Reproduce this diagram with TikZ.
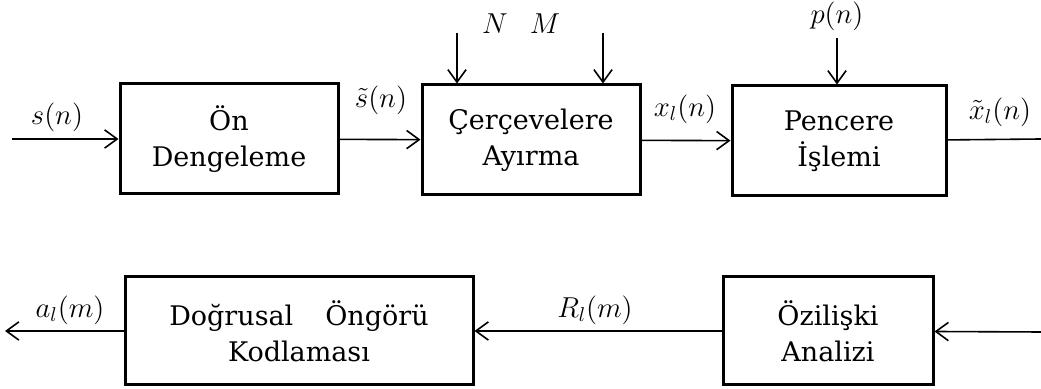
\documentclass[tikz,border=0pt]{standalone}
\usepackage{amsmath,amssymb}
\usepackage{fontspec}
\setmainfont{DejaVu Serif}
\usepackage{tikz}
\usetikzlibrary{positioning,arrows.meta,calc}
\tikzset{
  blok/.style={draw, line width=1.5pt, align=center, inner sep=0pt,
               font=\fontsize{13.5}{18}\selectfont},
  ok/.style={-{Straight Barb[length=2.2mm,width=3.2mm]}, line width=0.8pt},
  hat/.style={line width=0.8pt},
  etiket/.style={font=\fontsize{14.5}{16}\selectfont, inner sep=1pt},
}

\begin{document}
\begin{tikzpicture}[x=0.5pt, y=-0.5pt]
  \useasboundingbox (0,0) rectangle (1041,389);

  % ust sira
  \node[blok, minimum width=109pt, minimum height=55pt] (onden) at (229,139) {Ön\\Dengeleme};
  \node[blok, minimum width=109pt, minimum height=55pt] (cerc)  at (531,140) {Çerçevelere\\Ayırma};
  \node[blok, minimum width=107pt, minimum height=55pt] (pen)   at (839,141) {Pencere\\İşlemi};

  % alt sira
  \node[blok, minimum width=174pt, minimum height=54pt] (dok)   at (299,331) {Doğrusal\hspace{16pt}Öngörü\\Kodlaması};
  \node[blok, minimum width=105pt, minimum height=54pt] (ozil)  at (828,331) {Özilişki\\Analizi};

  % serbest uclar
  \coordinate (giris) at (12,139);
  \coordinate (cikis) at (1041,139);
  \coordinate (nN)    at (457,33);
  \coordinate (nM)    at (603,33);
  \coordinate (np)    at (837,38);
  \coordinate (giris2) at (1041,332);
  \coordinate (cikis2) at (5,331);

  \draw[ok] (giris) -- (onden);
  \draw[ok] (onden) -- (cerc);
  \draw[ok] (cerc) -- (pen);
  \draw[hat] (pen) -- (cikis);
  \draw[ok] (nN) -- (nN |- cerc.north);
  \draw[ok] (nM) -- (nM |- cerc.north);
  \draw[ok] (np) -- (np |- pen.north);

  \draw[ok] (giris2) -- (ozil);
  \draw[ok] (ozil) -- (dok);
  \draw[ok] (dok) -- (cikis2);

  % etiketler
  \node[etiket] (ls)  at (57,117)   {$s(n)$};
  \node[etiket] (lst) at (381,100)  {$\tilde{s}(n)$};
  \node[etiket] (lx)  at (685,109)  {$x_l(n)$};
  \node[etiket] (lxt) at (1000,112) {$\tilde{x}_l(n)$};
  \node[etiket] (lN)  at (495,24)   {$N$};
  \node[etiket] (lM)  at (545,24)   {$M$};
  \node[etiket] (lp)  at (837,16)   {$p(n)$};
  \node[etiket] (la)  at (70,310)   {$a_l(m)$};
  \node[etiket] (lR)  at (595,310)  {$R_l(m)$};
\end{tikzpicture}
\end{document}
